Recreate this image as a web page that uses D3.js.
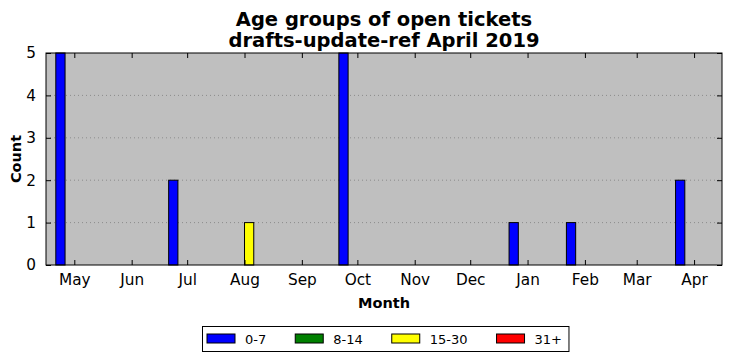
<!DOCTYPE html>
<html>
<head>
<meta charset="utf-8">
<script src="https://cdn.jsdelivr.net/npm/d3@7"></script>
<style>
  body { margin: 0; background: #fff; }
  svg { display: block; font-family: "DejaVu Sans", sans-serif; }
</style>
</head>
<body>
<svg id="chart" width="732" height="361"></svg>
<script>
// month starts (x axis ticks) and counts per age group
const months = ['2018-05-01', '2018-06-01', '2018-07-01', '2018-08-01', '2018-09-01', '2018-10-01',
  '2018-11-01', '2018-12-01', '2019-01-01', '2019-02-01', '2019-03-01', '2019-04-01'];
const monthLabels = ['May', 'Jun', 'Jul', 'Aug', 'Sep', 'Oct', 'Nov', 'Dec', 'Jan', 'Feb', 'Mar', 'Apr'];
const groups = ['0-7', '8-14', '15-30', '31+'];
const colors = ['#0000ff', '#008000', '#ffff00', '#ff0000'];
const age0to7 = [5, 0, 2, 0, 0, 5, 0, 0, 1, 1, 0, 2];
const age8to14 = [0, 0, 0, 0, 0, 0, 0, 0, 0, 0, 0, 0];
const age15to30 = [0, 0, 0, 1, 0, 0, 0, 0, 0, 0, 0, 0];
const age31plus = [0, 0, 0, 0, 0, 0, 0, 0, 0, 0, 0, 0];
const yTicks = [0, 1, 2, 3, 4, 5];

const series = [age0to7, age8to14, age15to30, age31plus];
const day = 864e5;
const parse = d3.utcParse('%Y-%m-%d');
const dates = months.map(parse);

const plotL = 46, plotR = 722, plotT = 53, plotB = 265;
const svg = d3.select('#chart');

const x = d3.scaleUtc()
  .domain([new Date(+dates[0] - 15.3 * day), new Date(+dates[11] + 15.1 * day)])
  .range([plotL, plotR]);
const y = d3.scaleLinear().domain([0, 5]).range([plotB, plotT]);
const barDays = 5;

// plot background
svg.append('rect')
  .attr('x', plotL).attr('y', plotT)
  .attr('width', plotR - plotL).attr('height', plotB - plotT)
  .attr('fill', '#bfbfbf');

// grid
svg.append('g').selectAll('line')
  .data(yTicks.slice(1, -1))
  .enter().append('line')
  .attr('x1', plotL).attr('x2', plotR)
  .attr('y1', d => y(d)).attr('y2', d => y(d))
  .attr('stroke', '#7f7f7f').attr('stroke-width', 0.8)
  .attr('stroke-dasharray', '1,3');

// bars
const plot = svg.append('g');
series.forEach((vals, gi) => {
  plot.selectAll(null)
    .data(vals.map((v, i) => ({ v, date: dates[i] })).filter(d => d.v > 0))
    .enter().append('rect')
    .attr('x', d => x(new Date(+d.date + (gi - 2) * barDays * day)))
    .attr('width', d => x(new Date(+d.date + (gi - 1) * barDays * day)) - x(new Date(+d.date + (gi - 2) * barDays * day)))
    .attr('y', d => y(d.v))
    .attr('height', d => y(0) - y(d.v))
    .attr('fill', colors[gi])
    .attr('stroke', '#000').attr('stroke-width', 1);
});

// axes: ticks inward on all four sides
const xAxisB = d3.axisBottom(x).tickValues(dates).tickSize(-5).tickPadding(9)
  .tickFormat((d, i) => monthLabels[i]);
const xAxisT = d3.axisTop(x).tickValues(dates).tickSize(-5).tickFormat('');
const yAxisL = d3.axisLeft(y).tickValues(yTicks).tickSize(-5).tickPadding(10).tickFormat(d3.format('d'));
const yAxisR = d3.axisRight(y).tickValues(yTicks).tickSize(-5).tickFormat('');

const style = g => {
  g.select('.domain').remove();
  g.selectAll('.tick line').attr('stroke', '#000');
  g.selectAll('.tick text').attr('font-size', 15.3).attr('fill', '#000')
    .attr('font-family', '"DejaVu Sans", sans-serif');
};
svg.append('g').attr('transform', `translate(0,${plotB})`).call(xAxisB).call(style);
svg.append('g').attr('transform', `translate(0,${plotT})`).call(xAxisT).call(style);
svg.append('g').attr('transform', `translate(${plotL},0)`).call(yAxisL).call(style);
svg.append('g').attr('transform', `translate(${plotR},0)`).call(yAxisR).call(style);

// frame
svg.append('rect')
  .attr('x', plotL).attr('y', plotT)
  .attr('width', plotR - plotL).attr('height', plotB - plotT)
  .attr('fill', 'none').attr('stroke', '#000').attr('stroke-width', 1);

// titles
const cx = (plotL + plotR) / 2;
svg.append('text').attr('x', cx).attr('y', 26).attr('text-anchor', 'middle')
  .attr('font-size', 19.5).attr('font-weight', 'bold').text('Age groups of open tickets');
svg.append('text').attr('x', cx).attr('y', 47).attr('text-anchor', 'middle')
  .attr('font-size', 19.5).attr('font-weight', 'bold').text('drafts-update-ref April 2019');
svg.append('text').attr('x', cx).attr('y', 308).attr('text-anchor', 'middle')
  .attr('font-size', 14.5).attr('font-weight', 'bold').text('Month');
svg.append('text').attr('transform', `translate(21,${(plotT + plotB) / 2}) rotate(-90)`)
  .attr('text-anchor', 'middle')
  .attr('font-size', 14.5).attr('font-weight', 'bold').text('Count');

// legend
const legend = svg.append('g');
let lx = 207;
groups.forEach((g, i) => {
  legend.append('rect').attr('x', lx).attr('y', 334).attr('width', 28).attr('height', 9)
    .attr('fill', colors[i]).attr('stroke', '#000').attr('stroke-width', 1);
  const t = legend.append('text').attr('x', lx + 38).attr('y', 343.5)
    .attr('font-size', 13).text(g);
  lx += 38 + t.node().getComputedTextLength() + 29;
});
legend.insert('rect', ':first-child')
  .attr('x', 202.5).attr('y', 326.5).attr('width', lx - 29 + 7 - 202.5).attr('height', 25)
  .attr('fill', '#fff').attr('stroke', '#000').attr('stroke-width', 1);
</script>
</body>
</html>
